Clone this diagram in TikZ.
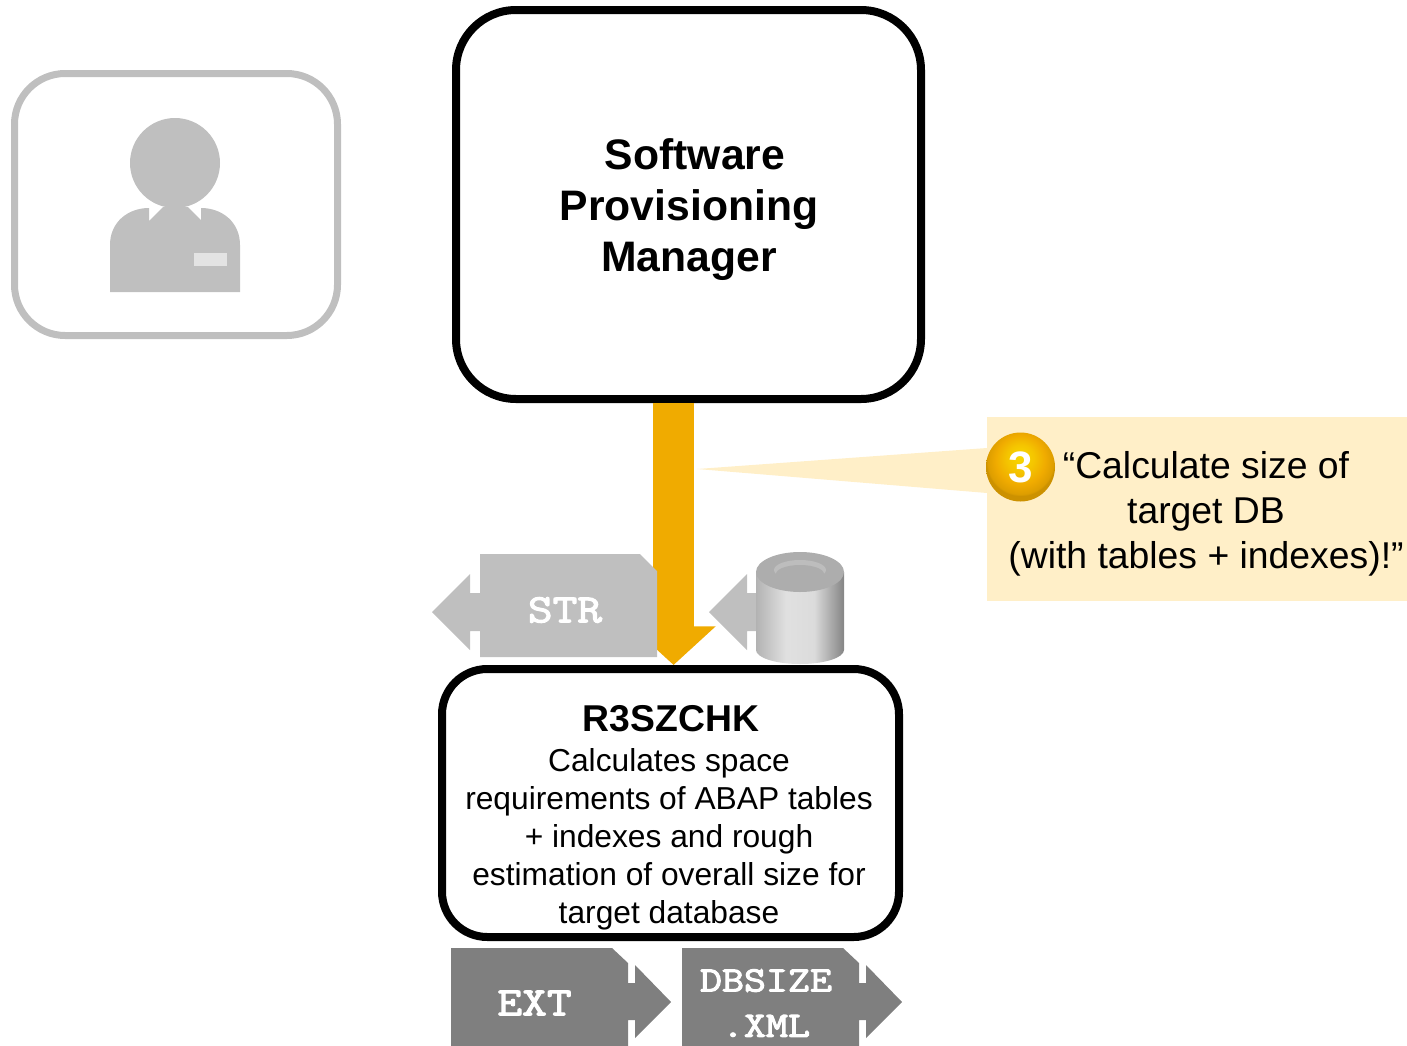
\documentclass[tikz,border=0pt]{standalone}
\usepackage{fontspec}
\setmainfont{Liberation Sans}
\newfontfamily\codefont[FakeBold=3,FakeStretch=1.2]{Latin Modern Mono}
\usetikzlibrary{arrows.meta}
\definecolor{sapgold}{HTML}{F0AB00}
\definecolor{lightgrey}{HTML}{BFBFBF}
\definecolor{darkgrey}{HTML}{7F7F7F}
\definecolor{notefill}{HTML}{FFEFC8}
\pgfdeclarehorizontalshading{tankbody}{100bp}{color(0bp)=(black!30); color(25bp)=(black!30); color(42bp)=(black!12); color(58bp)=(black!14); color(75bp)=(black!48); color(100bp)=(black!48)}
\pgfdeclareradialshading{goldball}{\pgfpoint{0bp}{8bp}}{color(0bp)=(yellow!55!sapgold); color(10bp)=(sapgold!70!yellow); color(18bp)=(sapgold); color(24bp)=(sapgold!92!black); color(25bp)=(sapgold!85!black); color(50bp)=(sapgold!85!black)}
\tikzset{
  bigbox/.style={draw=black,line width=6pt,rounded corners=45pt,fill=white,align=center,inner sep=0pt},
  doctext/.style={text=white,font=\codefont\fontsize{26.7}{34}\selectfont,align=center,inner sep=0pt},
  feedarrow/.style={draw=sapgold,line width=30.75pt,-{Triangle[length=29pt,width=61.5pt]}}
}
\begin{document}
\begin{tikzpicture}[x=0.75pt,y=-0.75pt]
  \useasboundingbox (0,0) rectangle (1407,1046);
  \def\rightdoc{(0,0) -- (161,0) -- (177,15) -- (177,35) -- (184,35) -- (184,17) -- (220,54) -- (184,90) -- (184,72) -- (177,72) -- (177,98) -- (0,98) -- cycle}
  \def\lefthead{(0,0) -- (38,-38) -- (38,-19) -- (48,-19) -- (48,19) -- (38,19) -- (38,38) -- cycle}

  % operator
  \node[draw=lightgrey,line width=5.25pt,rounded corners=38pt,minimum width=242.25pt,minimum height=196.5pt,inner sep=0pt] (user) at (176,204.5) {};
  \fill[lightgrey] (175,163) circle (45);
  \fill[lightgrey] (110,292) -- (110,245) .. controls (110,222) and (128,208) .. (149,208) -- (149,221) -- (163,207) -- (188,207) -- (201,220) -- (201,208) .. controls (222,208) and (240,222) .. (240,245) -- (240,292) -- cycle;
  \fill[black!11] (194,253) rectangle (227,266);

  % main boxes
  \node[bigbox,minimum width=348.75pt,minimum height=291.75pt] (spm) at (688.5,204.5) {};
  \node[align=center,inner sep=0pt,font=\bfseries\fontsize{32}{38.25}\selectfont] (spmtext) at (689,210) {\hspace*{9pt}Software\\Provisioning\\Manager};
  \node[bigbox,rounded corners=34pt,minimum width=342.75pt,minimum height=201pt] (szchk) at (670.5,803) {};
  \draw[feedarrow] ([xshift=2.3pt]szchk.north |- spm.south) -- ([xshift=2.3pt]szchk.north);
  \node[align=center,inner sep=0pt,font=\fontsize{23.8}{28.6}\selectfont] (szchktext) at (669,818) {{\bfseries\fontsize{28}{30}\selectfont\hspace*{3pt}R3SZCHK}\\[1pt]Calculates space\\requirements of ABAP tables\\+ indexes and rough\\estimation of overall size for\\target database};

  % files
  \fill[lightgrey] (480,554) -- (640,554) -- (657,571) -- (657,657) -- (480,657) -- cycle;
  \fill[lightgrey,shift={(432,612)}] \lefthead;
  \node[doctext,font=\codefont\fontsize{30}{34}\selectfont] (str) at (565,610) {STR};
  \fill[lightgrey,shift={(709,612)}] \lefthead;
  \shade[shading=tankbody] (756,572) -- (756,650) arc[start angle=180,delta angle=-180,x radius=44,y radius=14] -- (844,572) -- cycle;
  \fill[black!32] (800,572) ellipse [x radius=44,y radius=20];
  \fill[black!26] (800,570) ellipse [x radius=26,y radius=10];
  \fill[black!32] (800,574) ellipse [x radius=24,y radius=9];

  \fill[darkgrey,shift={(451,948)}] \rightdoc;
  \node[doctext,font=\codefont\fontsize{30}{34}\selectfont] (ext) at (534.5,1003) {EXT};
  \fill[darkgrey,shift={(682,948)}] \rightdoc;
  \node[doctext] (dbsize) at (766,1003) {DBSIZE\\.XML};

  % note
  \fill[notefill] (697,469) -- (987,448) -- (987,493) -- cycle;
  \node[fill=notefill,minimum width=315pt,minimum height=138pt,inner sep=0pt,outer sep=0pt] (notebox) at (1197,509) {};
  \node[align=center,inner sep=0pt,font=\fontsize{28}{33.75}\selectfont] (notetext) at (1206,514) {“Calculate size of\\target DB\\(with tables + indexes)!”};
  \node[circle,shading=goldball,minimum size=51.75pt,inner sep=0pt,text=white,font=\bfseries\fontsize{33}{34}\selectfont] (num) at (1020.5,467) {3};
\end{tikzpicture}
\end{document}
